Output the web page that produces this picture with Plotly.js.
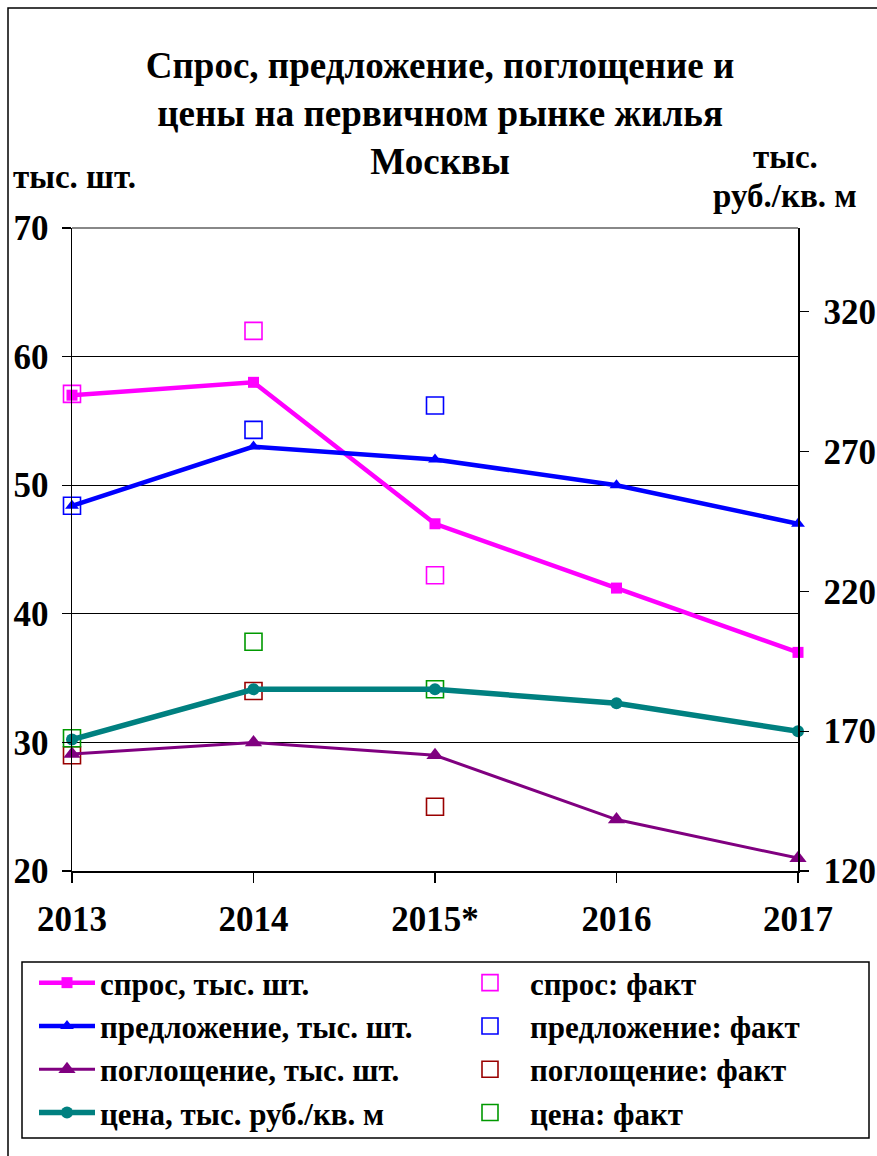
<!DOCTYPE html>
<html>
<head>
<meta charset="utf-8">
<script src="https://cdn.plot.ly/plotly-3.0.1.min.js"></script>
<style>html,body{margin:0;padding:0;background:#fff;}#chart{width:877px;height:1156px;}</style>
</head>
<body>
<div id="chart"></div>
<script>
var years = ['2013', '2014', '2015*', '2016', '2017'];
var factYears = ['2013', '2014', '2015*'];
var demand = [57, 58, 47, 42, 37];
var supply = [48.4, 53, 52, 50, 47];
var absorption = [29.1, 30, 29, 24, 21];
var price = [167, 185, 185, 180, 170];
var demandFact = [57.1, 62, 43];
var supplyFact = [48.4, 54.3, 56.2];
var absorptionFact = [29, 34, 25];
var priceFact = [167.5, 202, 185];
var leftTicks = [20, 30, 40, 50, 60, 70];
var rightTicks = [120, 170, 220, 270, 320];

var FONT = 'Liberation Serif, Times New Roman, serif';
var FW = 877, FH = 1156;

function factTrace(name, y, color, axis) {
  return {
    x: factYears, y: y, name: name, type: 'scatter', mode: 'markers', yaxis: axis,
    cliponaxis: false, legend: 'legend2',
    marker: {symbol: 'square-open', size: 17, color: color, line: {width: 1.6, color: color}}
  };
}
function lineTrace(name, y, color, width, symbol, msize, axis) {
  return {
    x: years, y: y, name: name, type: 'scatter', mode: 'lines+markers', yaxis: axis,
    cliponaxis: false, legend: 'legend',
    line: {color: color, width: width},
    marker: {symbol: symbol, size: msize, color: color}
  };
}

var data = [
  factTrace('спрос: факт', demandFact, '#FF00FF', 'y'),
  factTrace('предложение: факт', supplyFact, '#0000FF', 'y'),
  factTrace('поглощение: факт', absorptionFact, '#990000', 'y'),
  factTrace('цена: факт', priceFact, '#009900', 'y2'),
  lineTrace('спрос, тыс. шт.', demand, '#FF00FF', 4.5, 'square', 11, 'y'),
  lineTrace('предложение, тыс. шт.', supply, '#0000FF', 4.5, 'triangle-up', 12, 'y'),
  lineTrace('поглощение, тыс. шт.', absorption, '#800080', 3, 'triangle-up', 15, 'y'),
  lineTrace('цена, тыс. руб./кв. м', price, '#008080', 5.5, 'circle', 12, 'y2')
];

var W = 726, H = 643, L = 72, T = 228;
function px(x) { return (x - L) / W; }
function py(y) { return (T + H - y) / H; }
function cy(y) { return 1 - y / FH; }

var legendFont = {family: FONT, size: 31, color: '#000', weight: 'bold'};
var tickFont = {family: FONT, size: 35, color: '#000', weight: 'bold'};
var unitFont = {family: FONT, size: 33, color: '#000', weight: 'bold'};

var layout = {
  width: FW, height: FH,
  margin: {l: 72, r: 79, t: 228, b: 285, autoexpand: false},
  paper_bgcolor: '#fff', plot_bgcolor: '#fff',
  font: {family: FONT, color: '#000', weight: 'bold'},
  showlegend: true,
  title: {
    text: 'Спрос, предложение, поглощение и<br>цены на первичном рынке жилья<br>Москвы',
    font: {family: FONT, size: 37, color: '#000', weight: 'bold'},
    x: 0.507, xanchor: 'center', xref: 'paper',
    y: cy(78), yanchor: 'top', yref: 'container'
  },
  xaxis: {
    type: 'category', range: [0, 4], showgrid: false, zeroline: false,
    showline: true, linecolor: '#000', linewidth: 1.5,
    ticks: 'outside', ticklen: 10, tickcolor: '#000', tickwidth: 1.2,
    tickfont: tickFont, ticklabelstandoff: 6
  },
  yaxis: {
    range: [20, 70], tickvals: leftTicks, showgrid: true, gridcolor: '#000', gridwidth: 1.2,
    zeroline: false, showline: true, linecolor: '#000', linewidth: 1.5,
    ticks: 'outside', ticklen: 9, tickcolor: '#000', tickwidth: 1.2,
    tickfont: tickFont, ticklabelstandoff: 6
  },
  yaxis2: {
    range: [120, 350], tickvals: rightTicks, overlaying: 'y', side: 'right',
    showgrid: false, zeroline: false, showline: true, linecolor: '#000', linewidth: 1.5,
    ticks: 'outside', ticklen: 9, tickcolor: '#000', tickwidth: 1.2,
    tickfont: tickFont, ticklabelstandoff: 8
  },
  legend: {
    x: px(34), xanchor: 'left', y: py(956), yanchor: 'top',
    xref: 'paper', yref: 'paper',
    bgcolor: 'rgba(0,0,0,0)', borderwidth: 0, itemwidth: 56,
    font: legendFont
  },
  legend2: {
    x: px(450), xanchor: 'left', y: py(956), yanchor: 'top',
    xref: 'paper', yref: 'paper',
    bgcolor: 'rgba(0,0,0,0)', borderwidth: 0, itemwidth: 70,
    font: legendFont
  },
  annotations: [
    {text: 'тыс. шт.', xref: 'paper', yref: 'paper', x: px(11), y: py(177), xanchor: 'left', yanchor: 'middle', showarrow: false,
     font: unitFont},
    {text: 'тыс.', xref: 'paper', yref: 'paper', x: px(785), y: py(157), xanchor: 'center', yanchor: 'middle', showarrow: false,
     font: unitFont},
    {text: 'руб./кв. м', xref: 'paper', yref: 'paper', x: px(785), y: py(196), xanchor: 'center', yanchor: 'middle', showarrow: false,
     font: unitFont}
  ],
  shapes: [
    {type: 'line', xref: 'paper', yref: 'paper', x0: 0, x1: 1, y0: 1, y1: 1, line: {color: '#888', width: 2}, layer: 'above'},
    {type: 'rect', xref: 'paper', yref: 'paper', x0: px(8), x1: px(900), y0: py(1170), y1: py(8), line: {color: '#000', width: 1.5}},
    {type: 'rect', xref: 'paper', yref: 'paper', x0: px(22), x1: px(869), y0: py(1138), y1: py(962), line: {color: '#000', width: 1.5}}
  ]
};

Plotly.newPlot('chart', data, layout, {displayModeBar: false, staticPlot: true});
</script>
</body>
</html>
